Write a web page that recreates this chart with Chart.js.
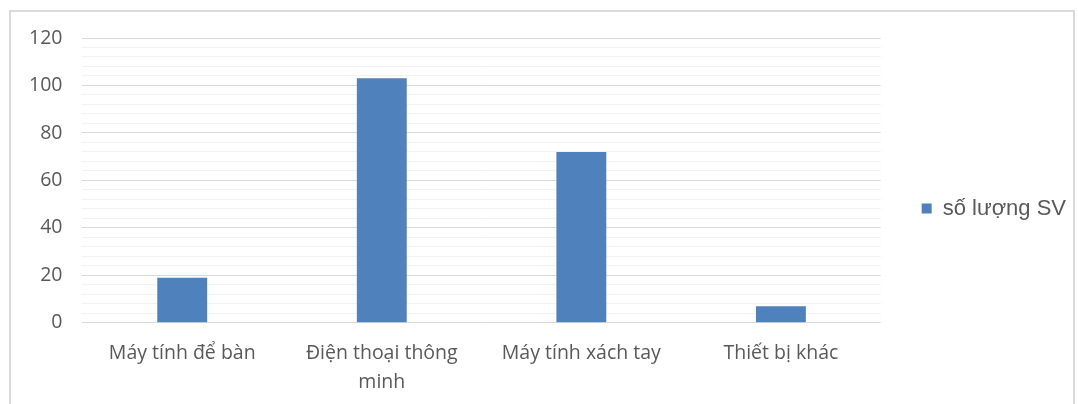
<!DOCTYPE html>
<html>
<head>
<meta charset="utf-8">
<script src="https://cdn.jsdelivr.net/npm/chart.js@4/dist/chart.umd.min.js"></script>
<style>
  html, body { margin: 0; padding: 0; background: #fff; }
  #wrap { position: relative; width: 1078px; height: 404px; overflow: hidden; }
  #frame { position: absolute; left: 9px; top: 10px; width: 1066px; height: 420px; border: 2px solid #d9d9d9; box-sizing: border-box; }
  #chart { position: absolute; left: 0; top: 0; }
</style>
</head>
<body>
<div id="wrap">
  <div id="frame"></div>
  <canvas id="chart" width="1078" height="404"></canvas>
</div>
<script>
// data
var categories = ['Máy tính để bàn', ['Điện thoại thông', 'minh'], 'Máy tính xách tay', 'Thiết bị khác'];
var seriesName = 'số lượng SV';
var soLuongSV = [19, 103, 72, 7];
var yMin = 0, yMax = 120, majorStep = 20, minorStep = 4;

// nudge the legend up a little, like in the original
var legendShift = {
    id: 'legendShift',
    afterLayout: function(chart) {
        chart.legend.top -= 17;
        chart.legend.bottom -= 17;
    }
};

var ctx = document.getElementById('chart').getContext('2d');
var chart = new Chart(ctx, {
    type: 'bar',
    data: {
        labels: categories,
        datasets: [{
            label: seriesName,
            data: soLuongSV,
            backgroundColor: '#4f81bd',
            borderWidth: 0,
            barPercentage: 0.25,
            categoryPercentage: 1
        }]
    },
    options: {
        responsive: false,
        animation: false,
        layout: { padding: { left: 9, right: 2, top: 38, bottom: -9 } },
        plugins: {
            tooltip: { enabled: false },
            legend: {
                position: 'right',
                labels: {
                    boxWidth: 10,
                    boxHeight: 10,
                    padding: 41,
                    color: '#595959',
                    font: { family: 'Liberation Sans', size: 22 }
                }
            }
        },
        scales: {
            x: {
                grid: { display: false, drawTicks: false },
                border: { display: false },
                ticks: {
                    color: '#595959',
                    padding: 17,
                    maxRotation: 0,
                    font: { family: 'Open Sans', size: 19.5, lineHeight: 1.44 }
                }
            },
            y: {
                min: yMin,
                max: yMax,
                border: { display: false },
                grid: {
                    drawTicks: false,
                    lineWidth: 1,
                    color: function(c) {
                        var v = c.tick ? c.tick.value : 0;
                        return v % majorStep === 0 ? '#d9d9d9' : '#f2f2f2';
                    }
                },
                ticks: {
                    stepSize: minorStep,
                    autoSkip: false,
                    padding: 20,
                    color: '#595959',
                    font: { family: 'Open Sans', size: 19.5 },
                    callback: function(v) { return v % majorStep === 0 ? v : ''; }
                }
            }
        }
    },
    plugins: [legendShift]
});
</script>
</body>
</html>
